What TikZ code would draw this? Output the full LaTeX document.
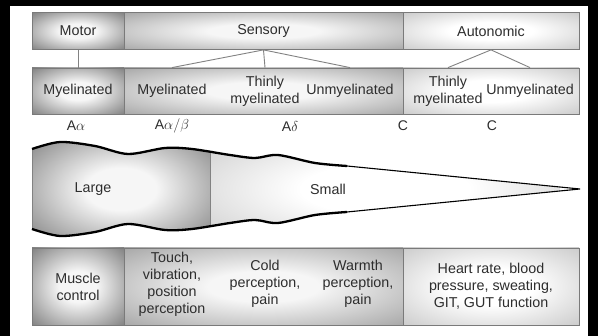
\documentclass[tikz,border=0pt]{standalone}
\usepackage{fontspec}
\setmainfont{Liberation Sans}
\usetikzlibrary{positioning}
\definecolor{fibInk}  {RGB}{ 45,  45,  45}
\definecolor{fibEdge} {RGB}{122, 122, 122}
\definecolor{fibLine} {RGB}{130, 130, 130}
\definecolor{fibDark} {RGB}{118, 118, 118}
\definecolor{fibMid}  {RGB}{160, 160, 160}
\definecolor{fibLight}{RGB}{198, 198, 198}
\definecolor{fibGlow} {RGB}{246, 246, 246}
\pgfdeclareradialshading{glowDark}{\pgfpoint{0bp}{0bp}}%
  {color(0bp)=(fibGlow); color(10bp)=(fibGlow); color(38bp)=(fibDark); color(50bp)=(fibDark)}
\pgfdeclareradialshading{glowMid}{\pgfpoint{0bp}{0bp}}%
  {color(0bp)=(fibGlow); color(10bp)=(fibGlow); color(38bp)=(fibMid); color(50bp)=(fibMid)}
\pgfdeclareradialshading{glowLight}{\pgfpoint{0bp}{0bp}}%
  {color(0bp)=(white); color(12bp)=(white); color(38bp)=(fibLight); color(50bp)=(fibLight)}

\begin{document}
\begin{tikzpicture}[
  x=1pt, y=1pt,
  cell/.style={draw=fibEdge, line width=0.8pt, inner sep=0pt,
               align=center, text=fibInk,
               font=\fontsize{14.3}{17}\selectfont},
  dark/.style={cell, shading=glowDark},
  mid/.style={cell, shading=glowMid},
  light/.style={cell, shading=glowLight},
  rowA/.style={minimum height=37pt},
  rowB/.style={minimum height=46pt},
  rowC/.style={minimum height=77pt},
  txt/.style={align=center, text=fibInk, inner sep=0pt,
              font=\fontsize{14.3}{17}\selectfont},
  fib/.style={text=fibInk, inner sep=0pt, font=\fontsize{14}{15}\selectfont},
  link/.style={draw=fibLine, line width=0.9pt},
]
  % frame
  \fill[black] (0,0) rectangle (598,336);
  \fill[white] (10,0) rectangle (588,330);

  % top row: fibre classes
  \node[dark,  rowA, minimum width=92pt]  (motor) at ( 78,  305) {Motor};
  \node[mid,   rowA, minimum width=279pt] (sens)  at (263.5,305) {Sensory};
  \node[light, rowA, minimum width=176pt] (auto)  at (491,  305) {Autonomic};

  % second row: myelination
  \node[dark,  rowB, minimum width=92pt]  (myelM) at ( 78,  245) {Myelinated};
  \node[mid,   rowB, minimum width=279pt] (sensB) at (263.5,245) {};
  \node[light, rowB, minimum width=176pt] (autoB) at (491,  245) {};
  \node[txt] (myelS) at (172, 245) {Myelinated};
  \node[txt] (thinS) at (265, 245) {Thinly\\myelinated};
  \node[txt] (unmS)  at (350, 245) {Unmyelinated};
  \node[txt] (thinA) at (448, 245) {Thinly\\myelinated};
  \node[txt] (unmA)  at (530, 245) {Unmyelinated};

  \draw[link] (motor.south) -- (myelM.north);
  \draw[link] (myelS.north |- sensB.north) -- (sens.south) -- (unmS.north |- sensB.north);
  \draw[link] (sens.south) -- (thinS.north |- sensB.north);
  \draw[link] (thinA.north |- autoB.north) -- (auto.south) -- (unmA.north |- autoB.north);

  % fibre type letters
  \node[fib] (aa)  at ( 76,210) {A$\alpha$};
  \node[fib] (aab) at (172,210) {A$\alpha/\beta$};
  \node[fib] (ad)  at (290,209) {A$\delta$};
  \node[fib] (c1)  at (403,210) {C};
  \node[fib] (c2)  at (492,210) {C};

  % axon, large then small
  \begin{scope}
    \clip plot[smooth] coordinates {(32,187) (60,194) (95,190) (128,182) (165,188)
          (192,187) (230,181) (255,178) (278,181) (315,173) (347,170)}
      -- (580,147)
      -- plot[smooth] coordinates {(347,124) (315,121) (278,113) (255,116)
          (230,113) (192,107) (165,106) (128,112) (95,104) (60,100) (32,107)}
      -- cycle;
    \shade[shading=glowDark]  (32,94) rectangle (210,200);
    \shade[shading=glowLight] (210,94) rectangle (560,200);
    \fill[white] (560,94) rectangle (585,200);
  \end{scope}
  \draw[fibLine, line width=0.8pt] (32,187) -- (32,107);
  \draw[fibLine, line width=0.8pt] (210,185) -- (210,109);
  \draw[line width=2.3pt] plot[smooth] coordinates {(32,187) (60,194) (95,190) (128,182) (165,188)
        (192,187) (230,181) (255,178) (278,181) (315,173) (347,170)};
  \draw[line width=2.3pt] plot[smooth] coordinates {(32,107) (60,100) (95,104) (128,112) (165,106)
        (192,107) (230,113) (255,116) (278,113) (315,121) (347,124)};
  \draw[line width=1.1pt] (347,170) -- (580,147) -- (347,124);
  \node[txt] (large) at ( 93,147) {Large};
  \node[txt] (small) at (328,147) {Small};

  % bottom row: function
  \node[dark,  rowC, minimum width=92pt]  (musc)  at ( 78,  49.5) {Muscle\\control};
  \node[mid,   rowC, minimum width=279pt] (sensC) at (263.5,49.5) {};
  \node[light, rowC, minimum width=176pt] (autoC) at (491,  49.5)
       {Heart rate, blood\\pressure, sweating,\\GIT, GUT function};
  \node[txt] (touch) at (172,52) {Touch,\\vibration,\\position\\perception};
  \node[txt] (cold)  at (265,52) {Cold\\perception,\\pain};
  \node[txt] (warm)  at (358,52) {Warmth\\perception,\\pain};
\end{tikzpicture}
\end{document}
